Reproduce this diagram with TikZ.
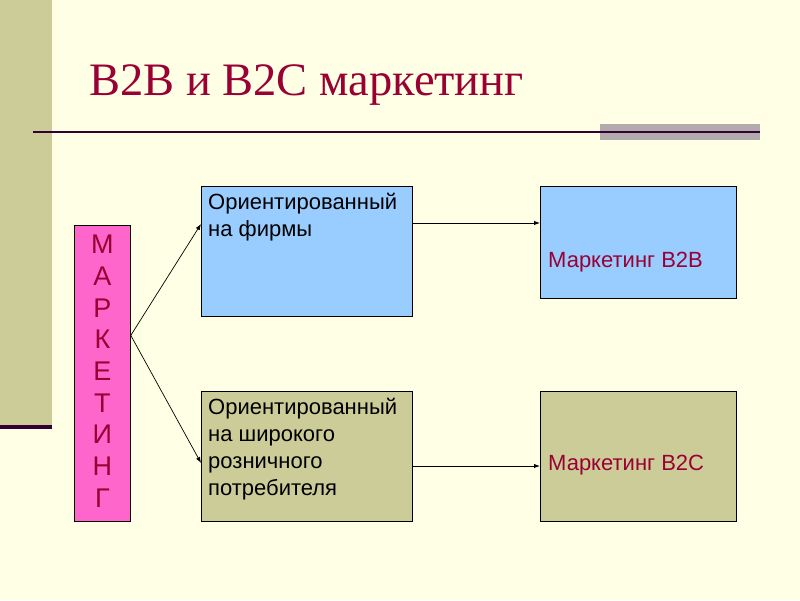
\documentclass[tikz,border=0pt]{standalone}
\usepackage{fontspec}
\setmainfont{Liberation Sans}
\newfontfamily\titlefont{Liberation Serif}
\usetikzlibrary{arrows.meta}

\definecolor{bgcream}{HTML}{FFFFE5}
\definecolor{khaki}{HTML}{CCCC99}
\definecolor{skyblue}{HTML}{99CCFF}
\definecolor{hotpink}{HTML}{FF66CC}
\definecolor{maroon}{HTML}{990033}
\definecolor{darkplum}{HTML}{330033}
\definecolor{greybar}{HTML}{B2AAAC}

\tikzset{
  box/.style={draw=black, line width=0.8pt, inner sep=0pt, anchor=north west},
  boxtext/.style={anchor=north west, inner sep=0pt, align=left,
    font=\fontsize{22}{27}\selectfont},
  arr/.style={-{Latex[length=6pt,width=4.5pt]}, line width=0.7pt}
}

\begin{document}
\begin{tikzpicture}[x=1pt, y=-1pt]
        \useasboundingbox (0,0) rectangle (800,600);
        \fill[bgcream] (0,0) rectangle (800,600);
        % left band and title rule
        \fill[khaki] (0,0) rectangle (52,426);
        \fill[darkplum] (0,425) rectangle (52,429);
        \fill[greybar] (600,124) rectangle (760,140);
        \draw[darkplum, line width=2.5pt] (33,132) -- (760,132);
        \node[anchor=base west, inner sep=0pt, text=maroon, font=\titlefont\fontsize{46.5}{46.5}\selectfont] (title) at (89,95) {B2B и B2C маркетинг};

        % boxes
        \node[box, fill=hotpink, minimum width=56pt, minimum height=296pt] (mark) at (74,225) {};
        \node[box, fill=skyblue, minimum width=211pt, minimum height=130pt] (firm) at (201,186) {};
        \node[box, fill=khaki, minimum width=211pt, minimum height=130pt] (retail) at (201,391) {};
        \node[box, fill=skyblue, minimum width=196pt, minimum height=112pt] (b2b) at (540,186) {};
        \node[box, fill=khaki, minimum width=196pt, minimum height=130pt] (b2c) at (540,391) {};

        % texts
        \node[anchor=north, inner sep=0pt, align=center, text=maroon, font=\fontsize{27}{31.7}\selectfont] (marktext) at ([yshift=-10pt]mark.north) {М\\А\\Р\\К\\Е\\Т\\И\\Н\\Г};
        \node[boxtext] (firmtext) at ([shift={(7,7)}]firm.north west) {Ориентированный\\на фирмы};
        \node[boxtext] (retailtext) at ([shift={(7,7)}]retail.north west) {Ориентированный\\на широкого\\розничного\\потребителя};
        \node[boxtext, anchor=base west, text=maroon] (b2btext) at ([shift={(8,81)}]b2b.north west) {Маркетинг B2B};
        \node[boxtext, anchor=base west, text=maroon] (b2ctext) at ([shift={(8,79)}]b2c.north west) {Маркетинг B2C};

        % connectors
        \coordinate (split) at ([yshift=38pt]mark.east);
        \draw[arr] (split) -- ([yshift=-38pt]firm.north west);
        \draw[arr] (split) -- ([yshift=-72pt]retail.north west);
        \draw[arr, line width=1pt] ([yshift=-37pt]firm.north east) -- ([yshift=-37pt]b2b.north west);
        \draw[arr, line width=1pt] ([yshift=-75pt]retail.north east) -- ([yshift=-75pt]b2c.north west);
    \end{tikzpicture}
\end{document}
